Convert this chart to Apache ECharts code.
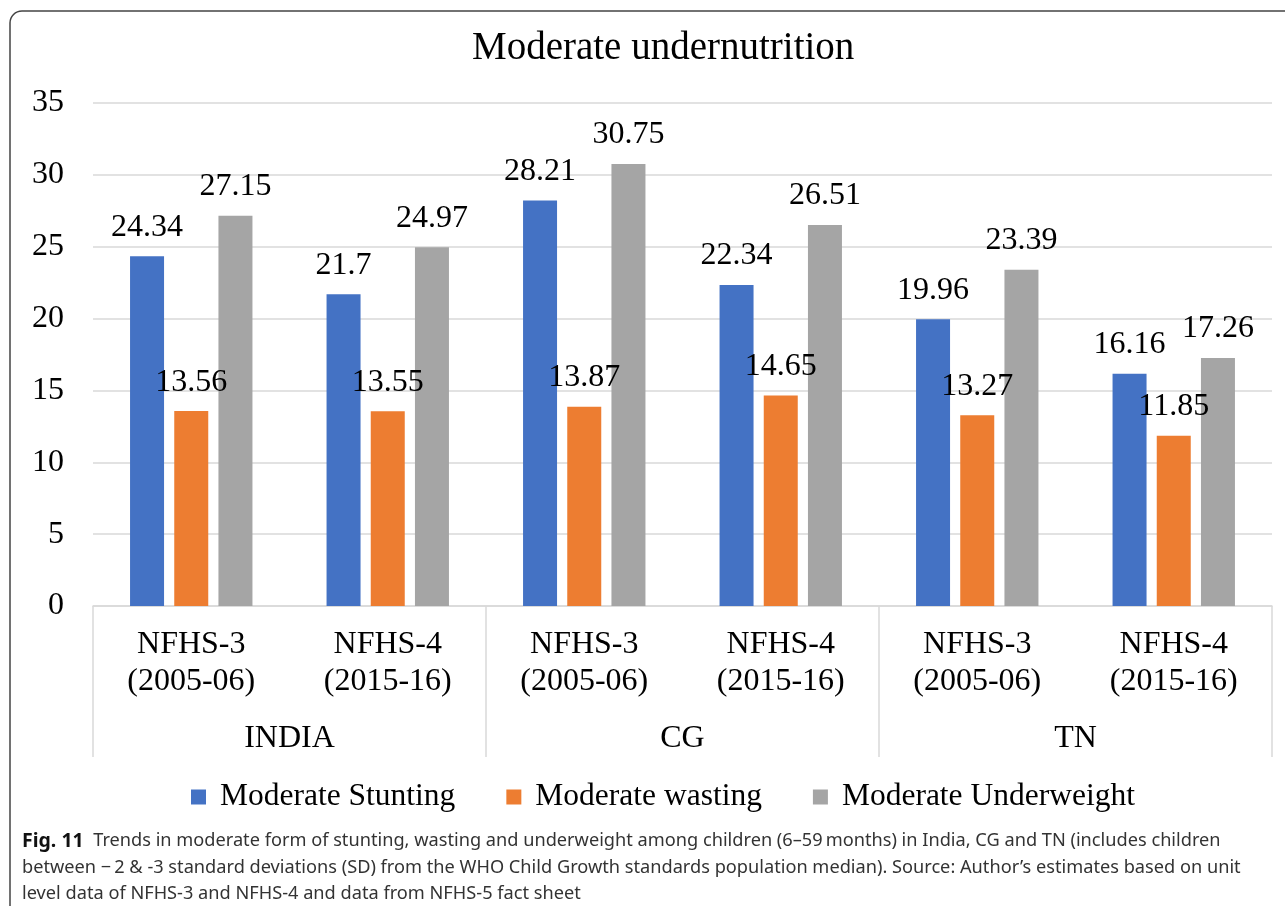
<!DOCTYPE html>
<html>
<head>
<meta charset="utf-8">
<script src="https://cdn.jsdelivr.net/npm/echarts@6/dist/echarts.min.js"></script>
<style>
  html, body { margin: 0; padding: 0; background: #fff; }
  #chart { width: 1285px; height: 906px; }
</style>
</head>
<body>
<div id="chart"></div>
<script>
const rounds = ['NFHS-3\n(2005-06)', 'NFHS-4\n(2015-16)', 'NFHS-3\n(2005-06)', 'NFHS-4\n(2015-16)', 'NFHS-3\n(2005-06)', 'NFHS-4\n(2015-16)'];
const regions = ['INDIA', 'CG', 'TN'];
const stunting = [24.34, 21.7, 28.21, 22.34, 19.96, 16.16];
const wasting = [13.56, 13.55, 13.87, 14.65, 13.27, 11.85];
const underweight = [27.15, 24.97, 30.75, 26.51, 23.39, 17.26];
const seriesNames = ['Moderate Stunting', 'Moderate wasting', 'Moderate Underweight'];
const colors = ['#4472C4', '#ED7D31', '#A5A5A5'];

const serif = '"Liberation Serif", "DejaVu Serif", serif';

const chart = echarts.init(document.getElementById('chart'), null, { renderer: 'canvas' });

const barLabel = {
    show: true,
    position: 'top',
    distance: 13,
    fontFamily: serif,
    fontSize: 32,
    color: '#000'
};

const option = {
    animation: false,
    color: colors,
    title: {
        text: 'Moderate undernutrition',
        left: 467,
        top: 24,
        textStyle: { fontFamily: serif, fontSize: 39, fontWeight: 'normal', color: '#000' }
    },
    grid: { left: 93, right: 13, top: 103, bottom: 300 },
    legend: {
        bottom: 88,
        left: 186,
        itemWidth: 15,
        itemHeight: 15,
        itemGap: 51,
        icon: 'rect',
        textStyle: { fontFamily: serif, fontSize: 31.5, color: '#000', padding: [0, 0, 0, 9] },
        data: seriesNames
    },
    xAxis: [
        {
            type: 'category',
            data: rounds,
            axisLine: { lineStyle: { color: '#d9d9d9', width: 1.5 } },
            axisTick: { show: false },
            axisLabel: {
                fontFamily: serif, fontSize: 32, color: '#000', lineHeight: 37, margin: 20,
                interval: 0
            }
        },
        {
            type: 'category',
            data: regions,
            position: 'bottom',
            axisLine: { show: false },
            axisTick: { show: true, length: 151, lineStyle: { color: '#d9d9d9', width: 1.5 } },
            axisLabel: { fontFamily: serif, fontSize: 32, color: '#000', margin: 117 }
        }
    ],
    yAxis: {
        type: 'value',
        min: 0,
        max: 35,
        interval: 5,
        axisLine: { show: false },
        axisTick: { show: false },
        splitLine: { lineStyle: { color: '#d9d9d9', width: 1.5 } },
        axisLabel: { fontFamily: serif, fontSize: 32, color: '#000', margin: 29 }
    },
    series: [
        { name: seriesNames[0], type: 'bar', data: stunting, barWidth: 34, barGap: '30%', label: barLabel },
        { name: seriesNames[1], type: 'bar', data: wasting, barWidth: 34, barGap: '30%', label: barLabel },
        { name: seriesNames[2], type: 'bar', data: underweight, barWidth: 34, barGap: '30%', label: barLabel }
    ],
    graphic: [
        {
            type: 'rect',
            silent: true,
            shape: { x: 10, y: 11, width: 1320, height: 950, r: 12 },
            style: { fill: 'none', stroke: '#444', lineWidth: 1.5 }
        },
        {
            type: 'text',
            left: 22,
            top: 828,
            style: {
                text: '{b|Fig. 11}  Trends in moderate form of stunting, wasting and underweight among children (6–59\u2009months) in India, CG and TN (includes children\nbetween \u2212\u20092 & -3 standard deviations (SD) from the WHO Child Growth standards population median). Source: Author’s estimates based on unit\nlevel data of NFHS-3 and NFHS-4 and data from NFHS-5 fact sheet',
                fontFamily: '"Noto Sans", sans-serif',
                fontSize: 18.2,
                lineHeight: 26.5,
                fill: '#333',
                rich: {
                    b: { fontFamily: '"Noto Sans", sans-serif', fontSize: 19.5, fontWeight: 'bold', fill: '#111' }
                }
            }
        }
    ]
};

chart.setOption(option);
</script>
</body>
</html>
